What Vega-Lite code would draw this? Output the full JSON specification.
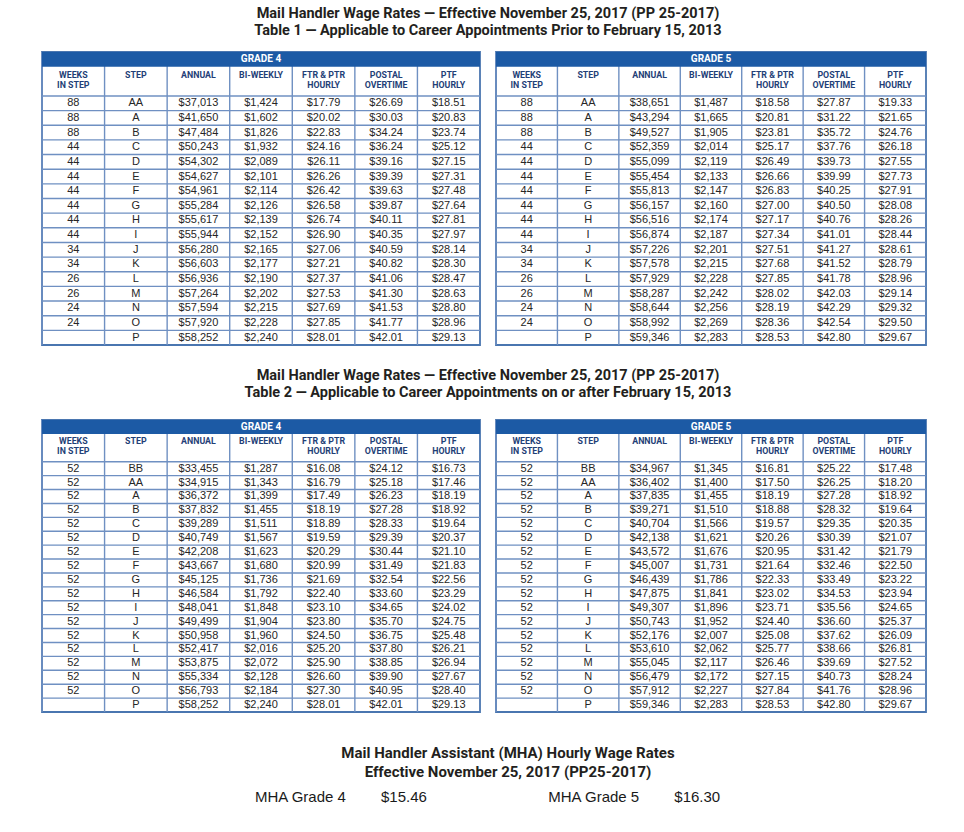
{
"$schema": "https://vega.github.io/schema/vega-lite/v6.json",
"background": "white",
"padding": {"left": 40, "top": 5, "right": 0, "bottom": 0},
"config": {
  "view": {"stroke": "#4a76b0", "strokeWidth": 1.8},
  "title": {"font": "Roboto", "fontSize": 14.5, "fontWeight": "bold", "color": "#231f20", "lineHeight": 17, "anchor": "middle"},
  "text": {"font": "Liberation Sans", "fontSize": 11, "color": "#262626"},
  "rule": {"color": "#6f90c2", "strokeWidth": 1.4}
},
"datasets": {
  "cols": [
    {"key": "weeks", "label": "WEEKS\nIN STEP"},
    {"key": "step", "label": "STEP"},
    {"key": "annual", "label": "ANNUAL"},
    {"key": "biweekly", "label": "BI-WEEKLY"},
    {"key": "ftr", "label": "FTR & PTR\nHOURLY"},
    {"key": "postal", "label": "POSTAL\nOVERTIME"},
    {"key": "ptf", "label": "PTF\nHOURLY"}
  ],
  "t1": [
    {"grade": "GRADE 4", "step": "AA", "weeks": 88, "annual": 37013, "biweekly": 1424, "ftr": 17.79, "postal": 26.69, "ptf": 18.51},
    {"grade": "GRADE 4", "step": "A", "weeks": 88, "annual": 41650, "biweekly": 1602, "ftr": 20.02, "postal": 30.03, "ptf": 20.83},
    {"grade": "GRADE 4", "step": "B", "weeks": 88, "annual": 47484, "biweekly": 1826, "ftr": 22.83, "postal": 34.24, "ptf": 23.74},
    {"grade": "GRADE 4", "step": "C", "weeks": 44, "annual": 50243, "biweekly": 1932, "ftr": 24.16, "postal": 36.24, "ptf": 25.12},
    {"grade": "GRADE 4", "step": "D", "weeks": 44, "annual": 54302, "biweekly": 2089, "ftr": 26.11, "postal": 39.16, "ptf": 27.15},
    {"grade": "GRADE 4", "step": "E", "weeks": 44, "annual": 54627, "biweekly": 2101, "ftr": 26.26, "postal": 39.39, "ptf": 27.31},
    {"grade": "GRADE 4", "step": "F", "weeks": 44, "annual": 54961, "biweekly": 2114, "ftr": 26.42, "postal": 39.63, "ptf": 27.48},
    {"grade": "GRADE 4", "step": "G", "weeks": 44, "annual": 55284, "biweekly": 2126, "ftr": 26.58, "postal": 39.87, "ptf": 27.64},
    {"grade": "GRADE 4", "step": "H", "weeks": 44, "annual": 55617, "biweekly": 2139, "ftr": 26.74, "postal": 40.11, "ptf": 27.81},
    {"grade": "GRADE 4", "step": "I", "weeks": 44, "annual": 55944, "biweekly": 2152, "ftr": 26.90, "postal": 40.35, "ptf": 27.97},
    {"grade": "GRADE 4", "step": "J", "weeks": 34, "annual": 56280, "biweekly": 2165, "ftr": 27.06, "postal": 40.59, "ptf": 28.14},
    {"grade": "GRADE 4", "step": "K", "weeks": 34, "annual": 56603, "biweekly": 2177, "ftr": 27.21, "postal": 40.82, "ptf": 28.30},
    {"grade": "GRADE 4", "step": "L", "weeks": 26, "annual": 56936, "biweekly": 2190, "ftr": 27.37, "postal": 41.06, "ptf": 28.47},
    {"grade": "GRADE 4", "step": "M", "weeks": 26, "annual": 57264, "biweekly": 2202, "ftr": 27.53, "postal": 41.30, "ptf": 28.63},
    {"grade": "GRADE 4", "step": "N", "weeks": 24, "annual": 57594, "biweekly": 2215, "ftr": 27.69, "postal": 41.53, "ptf": 28.80},
    {"grade": "GRADE 4", "step": "O", "weeks": 24, "annual": 57920, "biweekly": 2228, "ftr": 27.85, "postal": 41.77, "ptf": 28.96},
    {"grade": "GRADE 4", "step": "P", "weeks": null, "annual": 58252, "biweekly": 2240, "ftr": 28.01, "postal": 42.01, "ptf": 29.13},
    {"grade": "GRADE 5", "step": "AA", "weeks": 88, "annual": 38651, "biweekly": 1487, "ftr": 18.58, "postal": 27.87, "ptf": 19.33},
    {"grade": "GRADE 5", "step": "A", "weeks": 88, "annual": 43294, "biweekly": 1665, "ftr": 20.81, "postal": 31.22, "ptf": 21.65},
    {"grade": "GRADE 5", "step": "B", "weeks": 88, "annual": 49527, "biweekly": 1905, "ftr": 23.81, "postal": 35.72, "ptf": 24.76},
    {"grade": "GRADE 5", "step": "C", "weeks": 44, "annual": 52359, "biweekly": 2014, "ftr": 25.17, "postal": 37.76, "ptf": 26.18},
    {"grade": "GRADE 5", "step": "D", "weeks": 44, "annual": 55099, "biweekly": 2119, "ftr": 26.49, "postal": 39.73, "ptf": 27.55},
    {"grade": "GRADE 5", "step": "E", "weeks": 44, "annual": 55454, "biweekly": 2133, "ftr": 26.66, "postal": 39.99, "ptf": 27.73},
    {"grade": "GRADE 5", "step": "F", "weeks": 44, "annual": 55813, "biweekly": 2147, "ftr": 26.83, "postal": 40.25, "ptf": 27.91},
    {"grade": "GRADE 5", "step": "G", "weeks": 44, "annual": 56157, "biweekly": 2160, "ftr": 27.00, "postal": 40.50, "ptf": 28.08},
    {"grade": "GRADE 5", "step": "H", "weeks": 44, "annual": 56516, "biweekly": 2174, "ftr": 27.17, "postal": 40.76, "ptf": 28.26},
    {"grade": "GRADE 5", "step": "I", "weeks": 44, "annual": 56874, "biweekly": 2187, "ftr": 27.34, "postal": 41.01, "ptf": 28.44},
    {"grade": "GRADE 5", "step": "J", "weeks": 34, "annual": 57226, "biweekly": 2201, "ftr": 27.51, "postal": 41.27, "ptf": 28.61},
    {"grade": "GRADE 5", "step": "K", "weeks": 34, "annual": 57578, "biweekly": 2215, "ftr": 27.68, "postal": 41.52, "ptf": 28.79},
    {"grade": "GRADE 5", "step": "L", "weeks": 26, "annual": 57929, "biweekly": 2228, "ftr": 27.85, "postal": 41.78, "ptf": 28.96},
    {"grade": "GRADE 5", "step": "M", "weeks": 26, "annual": 58287, "biweekly": 2242, "ftr": 28.02, "postal": 42.03, "ptf": 29.14},
    {"grade": "GRADE 5", "step": "N", "weeks": 24, "annual": 58644, "biweekly": 2256, "ftr": 28.19, "postal": 42.29, "ptf": 29.32},
    {"grade": "GRADE 5", "step": "O", "weeks": 24, "annual": 58992, "biweekly": 2269, "ftr": 28.36, "postal": 42.54, "ptf": 29.50},
    {"grade": "GRADE 5", "step": "P", "weeks": null, "annual": 59346, "biweekly": 2283, "ftr": 28.53, "postal": 42.80, "ptf": 29.67}
  ],
  "t2": [
    {"grade": "GRADE 4", "step": "BB", "weeks": 52, "annual": 33455, "biweekly": 1287, "ftr": 16.08, "postal": 24.12, "ptf": 16.73},
    {"grade": "GRADE 4", "step": "AA", "weeks": 52, "annual": 34915, "biweekly": 1343, "ftr": 16.79, "postal": 25.18, "ptf": 17.46},
    {"grade": "GRADE 4", "step": "A", "weeks": 52, "annual": 36372, "biweekly": 1399, "ftr": 17.49, "postal": 26.23, "ptf": 18.19},
    {"grade": "GRADE 4", "step": "B", "weeks": 52, "annual": 37832, "biweekly": 1455, "ftr": 18.19, "postal": 27.28, "ptf": 18.92},
    {"grade": "GRADE 4", "step": "C", "weeks": 52, "annual": 39289, "biweekly": 1511, "ftr": 18.89, "postal": 28.33, "ptf": 19.64},
    {"grade": "GRADE 4", "step": "D", "weeks": 52, "annual": 40749, "biweekly": 1567, "ftr": 19.59, "postal": 29.39, "ptf": 20.37},
    {"grade": "GRADE 4", "step": "E", "weeks": 52, "annual": 42208, "biweekly": 1623, "ftr": 20.29, "postal": 30.44, "ptf": 21.10},
    {"grade": "GRADE 4", "step": "F", "weeks": 52, "annual": 43667, "biweekly": 1680, "ftr": 20.99, "postal": 31.49, "ptf": 21.83},
    {"grade": "GRADE 4", "step": "G", "weeks": 52, "annual": 45125, "biweekly": 1736, "ftr": 21.69, "postal": 32.54, "ptf": 22.56},
    {"grade": "GRADE 4", "step": "H", "weeks": 52, "annual": 46584, "biweekly": 1792, "ftr": 22.40, "postal": 33.60, "ptf": 23.29},
    {"grade": "GRADE 4", "step": "I", "weeks": 52, "annual": 48041, "biweekly": 1848, "ftr": 23.10, "postal": 34.65, "ptf": 24.02},
    {"grade": "GRADE 4", "step": "J", "weeks": 52, "annual": 49499, "biweekly": 1904, "ftr": 23.80, "postal": 35.70, "ptf": 24.75},
    {"grade": "GRADE 4", "step": "K", "weeks": 52, "annual": 50958, "biweekly": 1960, "ftr": 24.50, "postal": 36.75, "ptf": 25.48},
    {"grade": "GRADE 4", "step": "L", "weeks": 52, "annual": 52417, "biweekly": 2016, "ftr": 25.20, "postal": 37.80, "ptf": 26.21},
    {"grade": "GRADE 4", "step": "M", "weeks": 52, "annual": 53875, "biweekly": 2072, "ftr": 25.90, "postal": 38.85, "ptf": 26.94},
    {"grade": "GRADE 4", "step": "N", "weeks": 52, "annual": 55334, "biweekly": 2128, "ftr": 26.60, "postal": 39.90, "ptf": 27.67},
    {"grade": "GRADE 4", "step": "O", "weeks": 52, "annual": 56793, "biweekly": 2184, "ftr": 27.30, "postal": 40.95, "ptf": 28.40},
    {"grade": "GRADE 4", "step": "P", "weeks": null, "annual": 58252, "biweekly": 2240, "ftr": 28.01, "postal": 42.01, "ptf": 29.13},
    {"grade": "GRADE 5", "step": "BB", "weeks": 52, "annual": 34967, "biweekly": 1345, "ftr": 16.81, "postal": 25.22, "ptf": 17.48},
    {"grade": "GRADE 5", "step": "AA", "weeks": 52, "annual": 36402, "biweekly": 1400, "ftr": 17.50, "postal": 26.25, "ptf": 18.20},
    {"grade": "GRADE 5", "step": "A", "weeks": 52, "annual": 37835, "biweekly": 1455, "ftr": 18.19, "postal": 27.28, "ptf": 18.92},
    {"grade": "GRADE 5", "step": "B", "weeks": 52, "annual": 39271, "biweekly": 1510, "ftr": 18.88, "postal": 28.32, "ptf": 19.64},
    {"grade": "GRADE 5", "step": "C", "weeks": 52, "annual": 40704, "biweekly": 1566, "ftr": 19.57, "postal": 29.35, "ptf": 20.35},
    {"grade": "GRADE 5", "step": "D", "weeks": 52, "annual": 42138, "biweekly": 1621, "ftr": 20.26, "postal": 30.39, "ptf": 21.07},
    {"grade": "GRADE 5", "step": "E", "weeks": 52, "annual": 43572, "biweekly": 1676, "ftr": 20.95, "postal": 31.42, "ptf": 21.79},
    {"grade": "GRADE 5", "step": "F", "weeks": 52, "annual": 45007, "biweekly": 1731, "ftr": 21.64, "postal": 32.46, "ptf": 22.50},
    {"grade": "GRADE 5", "step": "G", "weeks": 52, "annual": 46439, "biweekly": 1786, "ftr": 22.33, "postal": 33.49, "ptf": 23.22},
    {"grade": "GRADE 5", "step": "H", "weeks": 52, "annual": 47875, "biweekly": 1841, "ftr": 23.02, "postal": 34.53, "ptf": 23.94},
    {"grade": "GRADE 5", "step": "I", "weeks": 52, "annual": 49307, "biweekly": 1896, "ftr": 23.71, "postal": 35.56, "ptf": 24.65},
    {"grade": "GRADE 5", "step": "J", "weeks": 52, "annual": 50743, "biweekly": 1952, "ftr": 24.40, "postal": 36.60, "ptf": 25.37},
    {"grade": "GRADE 5", "step": "K", "weeks": 52, "annual": 52176, "biweekly": 2007, "ftr": 25.08, "postal": 37.62, "ptf": 26.09},
    {"grade": "GRADE 5", "step": "L", "weeks": 52, "annual": 53610, "biweekly": 2062, "ftr": 25.77, "postal": 38.66, "ptf": 26.81},
    {"grade": "GRADE 5", "step": "M", "weeks": 52, "annual": 55045, "biweekly": 2117, "ftr": 26.46, "postal": 39.69, "ptf": 27.52},
    {"grade": "GRADE 5", "step": "N", "weeks": 52, "annual": 56479, "biweekly": 2172, "ftr": 27.15, "postal": 40.73, "ptf": 28.24},
    {"grade": "GRADE 5", "step": "O", "weeks": 52, "annual": 57912, "biweekly": 2227, "ftr": 27.84, "postal": 41.76, "ptf": 28.96},
    {"grade": "GRADE 5", "step": "P", "weeks": null, "annual": 59346, "biweekly": 2283, "ftr": 28.53, "postal": 42.80, "ptf": 29.67}
  ],
  "mha": [
    {"label": "MHA Grade 4", "rate": 15.46},
    {"label": "MHA Grade 5", "rate": 16.30}
  ]
},
"vconcat": [
  {
    "spacing": 20,
    "vconcat": [
      {
        "title": {"text": ["Mail Handler Wage Rates — Effective November 25, 2017 (PP 25-2017)", "Table 1 — Applicable to Career Appointments Prior to February 15, 2013"], "offset": 12, "dx": 4},
        "spacing": 12,
        "hconcat": [
          {
            "width": 438, "height": 293,
            "data": {"name": "t1"},
            "layer": [
              {"data": {"name": "cols"}, "mark": "rule",
               "encoding": {"x": {"field": "key", "type": "nominal", "bandPosition": 0, "scale": {"domain": ["weeks","step","annual","biweekly","ftr","postal","ptf"], "paddingInner": 0, "paddingOuter": 0}, "axis": null}}},
              {"transform": [{"filter": {"field": "grade", "equal": "GRADE 4"}}], "mark": "rule",
               "encoding": {"y": {"field": "step", "type": "nominal", "bandPosition": 0, "scale": {"domain": ["banner","hdr1","hdr2","AA","A","B","C","D","E","F","G","H","I","J","K","L","M","N","O","P"], "paddingInner": 0, "paddingOuter": 0}, "axis": null}}},
              {"data": {"values": [{"grade": "GRADE 4"}]}, "mark": {"type": "rect", "color": "#1c5aa5"},
               "encoding": {"y": {"datum": "banner", "type": "nominal"}}},
              {"data": {"values": [{"grade": "GRADE 4"}]}, "mark": {"type": "text", "color": "white", "fontWeight": "bold", "fontSize": 10, "font": "Roboto"},
               "encoding": {"y": {"datum": "banner", "type": "nominal"}, "text": {"field": "grade", "type": "nominal"}}},
              {"data": {"name": "cols"}, "mark": {"type": "text", "baseline": "top", "dy": 4, "lineBreak": "\n", "lineHeight": 10.5, "fontSize": 8.8, "fontWeight": "bold", "color": "#1f3f77", "font": "Roboto"},
               "encoding": {"x": {"field": "key", "type": "nominal"}, "y": {"datum": "hdr1", "type": "nominal", "bandPosition": 0}, "text": {"field": "label", "type": "nominal"}}},
              {"transform": [{"filter": {"field": "grade", "equal": "GRADE 4"}}, {"filter": {"field": "weeks", "valid": true}}], "mark": "text",
               "encoding": {"x": {"datum": "weeks", "type": "nominal"}, "y": {"field": "step", "type": "nominal"}, "text": {"field": "weeks", "type": "quantitative"}}},
              {"transform": [{"filter": {"field": "grade", "equal": "GRADE 4"}}], "mark": "text",
               "encoding": {"x": {"datum": "step", "type": "nominal"}, "y": {"field": "step", "type": "nominal"}, "text": {"field": "step", "type": "nominal"}}},
              {"transform": [{"filter": {"field": "grade", "equal": "GRADE 4"}}, {"fold": ["annual", "biweekly"]}], "mark": "text",
               "encoding": {"x": {"field": "key", "type": "nominal"}, "y": {"field": "step", "type": "nominal"}, "text": {"field": "value", "type": "quantitative", "format": "$,.0f"}}},
              {"transform": [{"filter": {"field": "grade", "equal": "GRADE 4"}}, {"fold": ["ftr", "postal", "ptf"]}], "mark": "text",
               "encoding": {"x": {"field": "key", "type": "nominal"}, "y": {"field": "step", "type": "nominal"}, "text": {"field": "value", "type": "quantitative", "format": "$.2f"}}}
            ]
          },
          {
            "width": 430, "height": 293,
            "data": {"name": "t1"},
            "layer": [
              {"data": {"name": "cols"}, "mark": "rule",
               "encoding": {"x": {"field": "key", "type": "nominal", "bandPosition": 0, "scale": {"domain": ["weeks","step","annual","biweekly","ftr","postal","ptf"], "paddingInner": 0, "paddingOuter": 0}, "axis": null}}},
              {"transform": [{"filter": {"field": "grade", "equal": "GRADE 5"}}], "mark": "rule",
               "encoding": {"y": {"field": "step", "type": "nominal", "bandPosition": 0, "scale": {"domain": ["banner","hdr1","hdr2","AA","A","B","C","D","E","F","G","H","I","J","K","L","M","N","O","P"], "paddingInner": 0, "paddingOuter": 0}, "axis": null}}},
              {"data": {"values": [{"grade": "GRADE 5"}]}, "mark": {"type": "rect", "color": "#1c5aa5"},
               "encoding": {"y": {"datum": "banner", "type": "nominal"}}},
              {"data": {"values": [{"grade": "GRADE 5"}]}, "mark": {"type": "text", "color": "white", "fontWeight": "bold", "fontSize": 10, "font": "Roboto"},
               "encoding": {"y": {"datum": "banner", "type": "nominal"}, "text": {"field": "grade", "type": "nominal"}}},
              {"data": {"name": "cols"}, "mark": {"type": "text", "baseline": "top", "dy": 4, "lineBreak": "\n", "lineHeight": 10.5, "fontSize": 8.8, "fontWeight": "bold", "color": "#1f3f77", "font": "Roboto"},
               "encoding": {"x": {"field": "key", "type": "nominal"}, "y": {"datum": "hdr1", "type": "nominal", "bandPosition": 0}, "text": {"field": "label", "type": "nominal"}}},
              {"transform": [{"filter": {"field": "grade", "equal": "GRADE 5"}}, {"filter": {"field": "weeks", "valid": true}}], "mark": "text",
               "encoding": {"x": {"datum": "weeks", "type": "nominal"}, "y": {"field": "step", "type": "nominal"}, "text": {"field": "weeks", "type": "quantitative"}}},
              {"transform": [{"filter": {"field": "grade", "equal": "GRADE 5"}}], "mark": "text",
               "encoding": {"x": {"datum": "step", "type": "nominal"}, "y": {"field": "step", "type": "nominal"}, "text": {"field": "step", "type": "nominal"}}},
              {"transform": [{"filter": {"field": "grade", "equal": "GRADE 5"}}, {"fold": ["annual", "biweekly"]}], "mark": "text",
               "encoding": {"x": {"field": "key", "type": "nominal"}, "y": {"field": "step", "type": "nominal"}, "text": {"field": "value", "type": "quantitative", "format": "$,.0f"}}},
              {"transform": [{"filter": {"field": "grade", "equal": "GRADE 5"}}, {"fold": ["ftr", "postal", "ptf"]}], "mark": "text",
               "encoding": {"x": {"field": "key", "type": "nominal"}, "y": {"field": "step", "type": "nominal"}, "text": {"field": "value", "type": "quantitative", "format": "$.2f"}}}
            ]
          }
        ]
      },
      {
        "title": {"text": ["Mail Handler Wage Rates — Effective November 25, 2017 (PP 25-2017)", "Table 2 — Applicable to Career Appointments on or after February 15, 2013"], "offset": 18, "dx": 4},
        "spacing": 12,
        "hconcat": [
          {
            "width": 438, "height": 292,
            "data": {"name": "t2"},
            "layer": [
              {"data": {"name": "cols"}, "mark": "rule",
               "encoding": {"x": {"field": "key", "type": "nominal", "bandPosition": 0, "scale": {"domain": ["weeks","step","annual","biweekly","ftr","postal","ptf"], "paddingInner": 0, "paddingOuter": 0}, "axis": null}}},
              {"transform": [{"filter": {"field": "grade", "equal": "GRADE 4"}}], "mark": "rule",
               "encoding": {"y": {"field": "step", "type": "nominal", "bandPosition": 0, "scale": {"domain": ["banner","hdr1","hdr2","BB","AA","A","B","C","D","E","F","G","H","I","J","K","L","M","N","O","P"], "paddingInner": 0, "paddingOuter": 0}, "axis": null}}},
              {"data": {"values": [{"grade": "GRADE 4"}]}, "mark": {"type": "rect", "color": "#1c5aa5"},
               "encoding": {"y": {"datum": "banner", "type": "nominal"}}},
              {"data": {"values": [{"grade": "GRADE 4"}]}, "mark": {"type": "text", "color": "white", "fontWeight": "bold", "fontSize": 10, "font": "Roboto"},
               "encoding": {"y": {"datum": "banner", "type": "nominal"}, "text": {"field": "grade", "type": "nominal"}}},
              {"data": {"name": "cols"}, "mark": {"type": "text", "baseline": "top", "dy": 3, "lineBreak": "\n", "lineHeight": 10.5, "fontSize": 8.8, "fontWeight": "bold", "color": "#1f3f77", "font": "Roboto"},
               "encoding": {"x": {"field": "key", "type": "nominal"}, "y": {"datum": "hdr1", "type": "nominal", "bandPosition": 0}, "text": {"field": "label", "type": "nominal"}}},
              {"transform": [{"filter": {"field": "grade", "equal": "GRADE 4"}}, {"filter": {"field": "weeks", "valid": true}}], "mark": "text",
               "encoding": {"x": {"datum": "weeks", "type": "nominal"}, "y": {"field": "step", "type": "nominal"}, "text": {"field": "weeks", "type": "quantitative"}}},
              {"transform": [{"filter": {"field": "grade", "equal": "GRADE 4"}}], "mark": "text",
               "encoding": {"x": {"datum": "step", "type": "nominal"}, "y": {"field": "step", "type": "nominal"}, "text": {"field": "step", "type": "nominal"}}},
              {"transform": [{"filter": {"field": "grade", "equal": "GRADE 4"}}, {"fold": ["annual", "biweekly"]}], "mark": "text",
               "encoding": {"x": {"field": "key", "type": "nominal"}, "y": {"field": "step", "type": "nominal"}, "text": {"field": "value", "type": "quantitative", "format": "$,.0f"}}},
              {"transform": [{"filter": {"field": "grade", "equal": "GRADE 4"}}, {"fold": ["ftr", "postal", "ptf"]}], "mark": "text",
               "encoding": {"x": {"field": "key", "type": "nominal"}, "y": {"field": "step", "type": "nominal"}, "text": {"field": "value", "type": "quantitative", "format": "$.2f"}}}
            ]
          },
          {
            "width": 430, "height": 292,
            "data": {"name": "t2"},
            "layer": [
              {"data": {"name": "cols"}, "mark": "rule",
               "encoding": {"x": {"field": "key", "type": "nominal", "bandPosition": 0, "scale": {"domain": ["weeks","step","annual","biweekly","ftr","postal","ptf"], "paddingInner": 0, "paddingOuter": 0}, "axis": null}}},
              {"transform": [{"filter": {"field": "grade", "equal": "GRADE 5"}}], "mark": "rule",
               "encoding": {"y": {"field": "step", "type": "nominal", "bandPosition": 0, "scale": {"domain": ["banner","hdr1","hdr2","BB","AA","A","B","C","D","E","F","G","H","I","J","K","L","M","N","O","P"], "paddingInner": 0, "paddingOuter": 0}, "axis": null}}},
              {"data": {"values": [{"grade": "GRADE 5"}]}, "mark": {"type": "rect", "color": "#1c5aa5"},
               "encoding": {"y": {"datum": "banner", "type": "nominal"}}},
              {"data": {"values": [{"grade": "GRADE 5"}]}, "mark": {"type": "text", "color": "white", "fontWeight": "bold", "fontSize": 10, "font": "Roboto"},
               "encoding": {"y": {"datum": "banner", "type": "nominal"}, "text": {"field": "grade", "type": "nominal"}}},
              {"data": {"name": "cols"}, "mark": {"type": "text", "baseline": "top", "dy": 3, "lineBreak": "\n", "lineHeight": 10.5, "fontSize": 8.8, "fontWeight": "bold", "color": "#1f3f77", "font": "Roboto"},
               "encoding": {"x": {"field": "key", "type": "nominal"}, "y": {"datum": "hdr1", "type": "nominal", "bandPosition": 0}, "text": {"field": "label", "type": "nominal"}}},
              {"transform": [{"filter": {"field": "grade", "equal": "GRADE 5"}}, {"filter": {"field": "weeks", "valid": true}}], "mark": "text",
               "encoding": {"x": {"datum": "weeks", "type": "nominal"}, "y": {"field": "step", "type": "nominal"}, "text": {"field": "weeks", "type": "quantitative"}}},
              {"transform": [{"filter": {"field": "grade", "equal": "GRADE 5"}}], "mark": "text",
               "encoding": {"x": {"datum": "step", "type": "nominal"}, "y": {"field": "step", "type": "nominal"}, "text": {"field": "step", "type": "nominal"}}},
              {"transform": [{"filter": {"field": "grade", "equal": "GRADE 5"}}, {"fold": ["annual", "biweekly"]}], "mark": "text",
               "encoding": {"x": {"field": "key", "type": "nominal"}, "y": {"field": "step", "type": "nominal"}, "text": {"field": "value", "type": "quantitative", "format": "$,.0f"}}},
              {"transform": [{"filter": {"field": "grade", "equal": "GRADE 5"}}, {"fold": ["ftr", "postal", "ptf"]}], "mark": "text",
               "encoding": {"x": {"field": "key", "type": "nominal"}, "y": {"field": "step", "type": "nominal"}, "text": {"field": "value", "type": "quantitative", "format": "$.2f"}}}
            ]
          }
        ]
      }
    ]
  },
  {
    "title": {"text": ["Mail Handler Assistant (MHA) Hourly Wage Rates", "Effective November 25, 2017 (PP25-2017)"], "fontSize": 15, "lineHeight": 19, "offset": 7, "dx": 26},
    "width": 880, "height": 20,
    "view": {"stroke": null},
    "data": {"name": "mha"},
    "layer": [
      {"mark": {"type": "text", "align": "left", "fontSize": 15, "color": "#1a1a1a"},
       "encoding": {"x": {"field": "label", "type": "nominal", "scale": {"type": "point", "padding": 1.11, "align": 0.363}, "axis": null}, "text": {"field": "label", "type": "nominal"}}},
      {"mark": {"type": "text", "align": "left", "dx": 126, "fontSize": 15, "color": "#1a1a1a"},
       "encoding": {"x": {"field": "label", "type": "nominal"}, "text": {"field": "rate", "type": "quantitative", "format": "$.2f"}}}
    ]
  }
],
"spacing": 32
}
